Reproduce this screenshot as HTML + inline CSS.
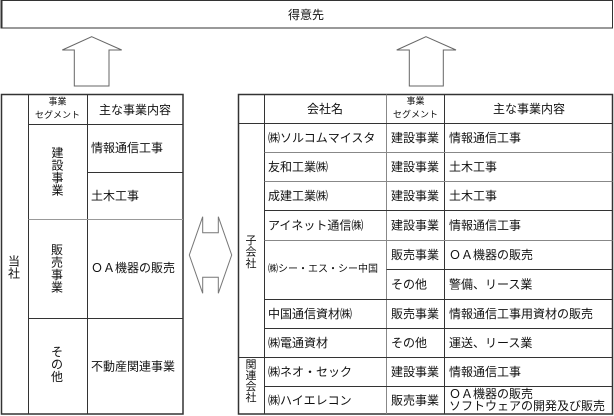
<!DOCTYPE html>
<html>
<head>
<meta charset="utf-8">
<style>
  html,body{margin:0;padding:0;background:#fff;}
  svg{display:block;}
  text{font-family:"Liberation Sans","Noto Sans CJK JP",sans-serif;fill:#111;}
</style>
</head>
<body>
<svg width="614" height="416" viewBox="0 0 614 416" xmlns="http://www.w3.org/2000/svg">
  <!-- top box -->
  <rect x="1.5" y="0.5" width="611" height="27.5" fill="#fff" stroke="#333" stroke-width="1"/>
  <line x1="1.5" y1="0" x2="1.5" y2="28.5" stroke="#333" stroke-width="2"/>
  <text x="306" y="15" font-size="12" text-anchor="middle" dominant-baseline="central">得意先</text>

  <!-- up arrows -->
  <polygon points="91.7,36.7 121.7,50 109,50 109,86 74.3,86 74.3,50 62.3,50" fill="#fff" stroke="#666" stroke-width="1"/>
  <polygon points="426,36.7 456,50 443.3,50 443.3,86 409.3,86 409.3,50 396.7,50" fill="#fff" stroke="#666" stroke-width="1"/>

  <!-- double arrow -->
  <polygon points="202.7,216.7 189.3,255 202.7,293.3 202.7,277.3 218.3,277.3 218.3,293.3 231.7,255 218.3,216.7 218.3,232.7 202.7,232.7" fill="#fff" stroke="#777" stroke-width="1"/>

  <!-- LEFT TABLE -->
  <g stroke="#333" stroke-width="1" fill="none">
    <rect x="1.5" y="94.5" width="181.5" height="319.5" stroke-width="1.5"/>
    <line x1="28.5" y1="94.5" x2="28.5" y2="414"/>
    <line x1="87.5" y1="94.5" x2="87.5" y2="414"/>
    <line x1="28.5" y1="124.5" x2="183" y2="124.5"/>
    <line x1="87.5" y1="172.5" x2="183" y2="172.5"/>
    <line x1="28.5" y1="219.5" x2="183" y2="219.5" stroke="#999"/>
    <line x1="28.5" y1="318.5" x2="183" y2="318.5"/>
  </g>
  <!-- left header -->
  <text x="57.5" y="101.5" font-size="9" text-anchor="middle" dominant-baseline="central">事業</text>
  <text x="57.5" y="115" font-size="9" text-anchor="middle" dominant-baseline="central">セグメント</text>
  <text x="135" y="110" font-size="12" text-anchor="middle" dominant-baseline="central">主な事業内容</text>
  <!-- 当社 -->
  <g font-size="12" text-anchor="middle" dominant-baseline="central">
    <text x="14" y="261.5">当</text>
    <text x="14" y="273.5">社</text>
    <!-- 建設事業 -->
    <text x="57.5" y="153">建</text>
    <text x="57.5" y="165.5">設</text>
    <text x="57.5" y="178">事</text>
    <text x="57.5" y="190.5">業</text>
    <!-- 販売事業 -->
    <text x="57" y="250">販</text>
    <text x="57" y="262.5">売</text>
    <text x="57" y="275">事</text>
    <text x="57" y="287.5">業</text>
    <!-- その他 -->
    <text x="57" y="352">そ</text>
    <text x="57" y="364.5">の</text>
    <text x="57" y="377">他</text>
  </g>
  <g font-size="12" dominant-baseline="central">
    <text x="91" y="148">情報通信工事</text>
    <text x="91" y="196">土木工事</text>
    <text x="91" y="268">ＯＡ機器の販売</text>
    <text x="91" y="366.5">不動産関連事業</text>
  </g>

  <!-- RIGHT TABLE -->
  <g stroke="#333" stroke-width="1" fill="none">
    <rect x="238.5" y="94.5" width="374" height="319.5" stroke-width="1.5"/>
    <line x1="264.5" y1="94.5" x2="264.5" y2="414"/>
    <line x1="386.5" y1="94.5" x2="386.5" y2="414" stroke="#888"/>
    <line x1="444.5" y1="94.5" x2="444.5" y2="414"/>
    <line x1="238.5" y1="123.5" x2="612.5" y2="123.5"/>
    <line x1="264.5" y1="152.5" x2="612.5" y2="152.5" stroke="#888"/>
    <line x1="264.5" y1="181.5" x2="612.5" y2="181.5" stroke="#888"/>
    <line x1="264.5" y1="210.5" x2="612.5" y2="210.5"/>
    <line x1="264.5" y1="240.5" x2="612.5" y2="240.5" stroke="#888"/>
    <line x1="386.5" y1="269.5" x2="612.5" y2="269.5"/>
    <line x1="264.5" y1="299.5" x2="612.5" y2="299.5"/>
    <line x1="264.5" y1="328.5" x2="612.5" y2="328.5"/>
    <line x1="238.5" y1="357.5" x2="612.5" y2="357.5"/>
    <line x1="264.5" y1="386.5" x2="612.5" y2="386.5"/>
  </g>
  <!-- right header -->
  <text x="325" y="109" font-size="12" text-anchor="middle" dominant-baseline="central">会社名</text>
  <text x="415.5" y="101" font-size="9" text-anchor="middle" dominant-baseline="central">事業</text>
  <text x="415.5" y="114.5" font-size="9" text-anchor="middle" dominant-baseline="central">セグメント</text>
  <text x="529" y="109" font-size="12" text-anchor="middle" dominant-baseline="central">主な事業内容</text>

  <!-- 子会社 / 関連会社 -->
  <g font-size="11" text-anchor="middle" dominant-baseline="central">
    <text x="251" y="241">子</text>
    <text x="251" y="252.5">会</text>
    <text x="251" y="264">社</text>
    <text x="251" y="365">関</text>
    <text x="251" y="376">連</text>
    <text x="251" y="387">会</text>
    <text x="251" y="398">社</text>
  </g>

  <!-- company names -->
  <g font-size="12" dominant-baseline="central">
    <text x="268" y="138">㈱ソルコムマイスタ</text>
    <text x="268" y="167">友和工業㈱</text>
    <text x="268" y="196">成建工業㈱</text>
    <text x="268" y="225.5">アイネット通信㈱</text>
    <text x="268" y="269.5" font-size="10">㈱シー・エス・シー中国</text>
    <text x="268" y="314">中国通信資材㈱</text>
    <text x="268" y="343">㈱電通資材</text>
    <text x="268" y="372">㈱ネオ・セック</text>
    <text x="268" y="400.5">㈱ハイエレコン</text>
  </g>
  <!-- segments -->
  <g font-size="12" dominant-baseline="central">
    <text x="391" y="138">建設事業</text>
    <text x="391" y="167">建設事業</text>
    <text x="391" y="196">建設事業</text>
    <text x="391" y="225.5">建設事業</text>
    <text x="391" y="255">販売事業</text>
    <text x="391" y="284.5">その他</text>
    <text x="391" y="314">販売事業</text>
    <text x="391" y="343">その他</text>
    <text x="391" y="372">建設事業</text>
    <text x="391" y="400.5">販売事業</text>
  </g>
  <!-- contents -->
  <g font-size="12" dominant-baseline="central">
    <text x="449" y="138">情報通信工事</text>
    <text x="449" y="167">土木工事</text>
    <text x="449" y="196">土木工事</text>
    <text x="449" y="225.5">情報通信工事</text>
    <text x="449" y="255">ＯＡ機器の販売</text>
    <text x="449" y="284.5">警備、リース業</text>
    <text x="449" y="314">情報通信工事用資材の販売</text>
    <text x="449" y="343">運送、リース業</text>
    <text x="449" y="372">情報通信工事</text>
    <text x="449" y="394">ＯＡ機器の販売</text>
    <text x="449" y="406">ソフトウェアの開発及び販売</text>
  </g>
</svg>
</body>
</html>
